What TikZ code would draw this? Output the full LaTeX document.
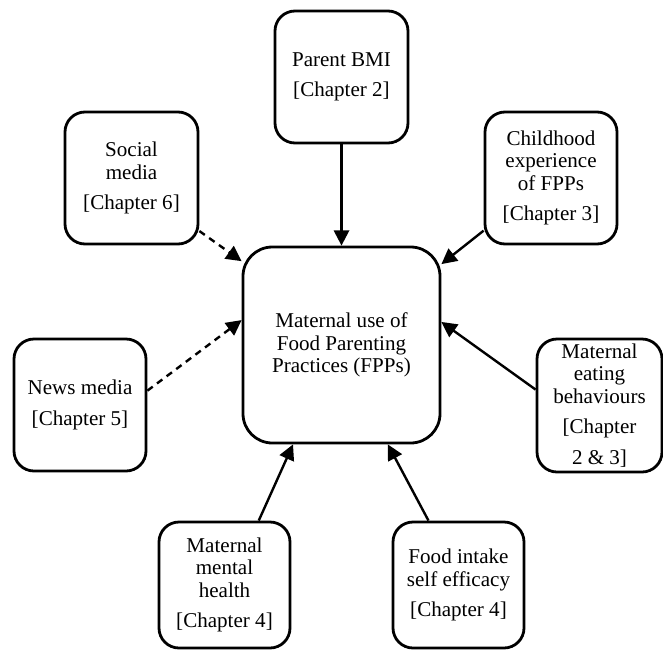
\documentclass[tikz,border=0pt]{standalone}
\usepackage{fontspec}
\setmainfont{Liberation Serif}
\usetikzlibrary{arrows.meta}
\begin{document}
\begin{tikzpicture}[x=0.75pt,y=-0.75pt,
  box/.style={draw, line width=2.1pt, rounded corners=15pt, align=center, inner sep=0pt,
    font=\fontsize{15.8}{16.9}\selectfont},
  conn/.style={line width=1.8pt, -{Triangle[length=11.5pt,width=11.5pt]}},
  dconn/.style={conn, dash pattern=on 5pt off 4pt}]
\useasboundingbox (0,0) rectangle (663,650);
\node[box, minimum width=147.75pt, minimum height=147pt, rounded corners=22pt] (main) at (341.5,345)
  {Maternal use of\\Food Parenting\\Practices (FPPs)};
\node[box, minimum width=99.75pt, minimum height=99pt] (parent) at (341.5,77)
  {Parent BMI\\[6pt][Chapter 2]};
\node[box, minimum width=99.75pt, minimum height=99pt] (social) at (131.5,178)
  {Social\\media\\[6pt][Chapter 6]};
\node[box, minimum width=99pt, minimum height=99pt] (child) at (551,178)
  {Childhood\\experience\\of FPPs\\[6pt][Chapter 3]};
\node[box, minimum width=99pt, minimum height=99pt] (news) at (80,405)
  {News media\\[6pt][Chapter 5]};
\node[box, minimum width=93.75pt, minimum height=99.75pt] (eating) at (599.5,405.5)
  {Maternal\\eating\\behaviours\\[6pt][Chapter\\[6pt]2 \& 3]};
\node[box, minimum width=98.25pt, minimum height=94.5pt] (mental) at (224.5,585)
  {Maternal\\mental\\health\\[6pt][Chapter 4]};
\node[box, minimum width=98.25pt, minimum height=94.5pt] (food) at (458.5,585)
  {Food intake\\self efficacy\\[6pt][Chapter 4]};
\draw[conn] (parent.south) -- (main.north);
\draw[conn] (child.218) -- (main.39);
\draw[dconn] (social.322) -- (main.140.9);
\draw[dconn] (news.12.8) -- (main.166.3);
\draw[conn] (eating.166.1) -- (main.13.1);
\draw[conn] (mental.62.7) -- (main.244.1);
\draw[conn] (food.115.9) -- (main.295.9);
\end{tikzpicture}
\end{document}
